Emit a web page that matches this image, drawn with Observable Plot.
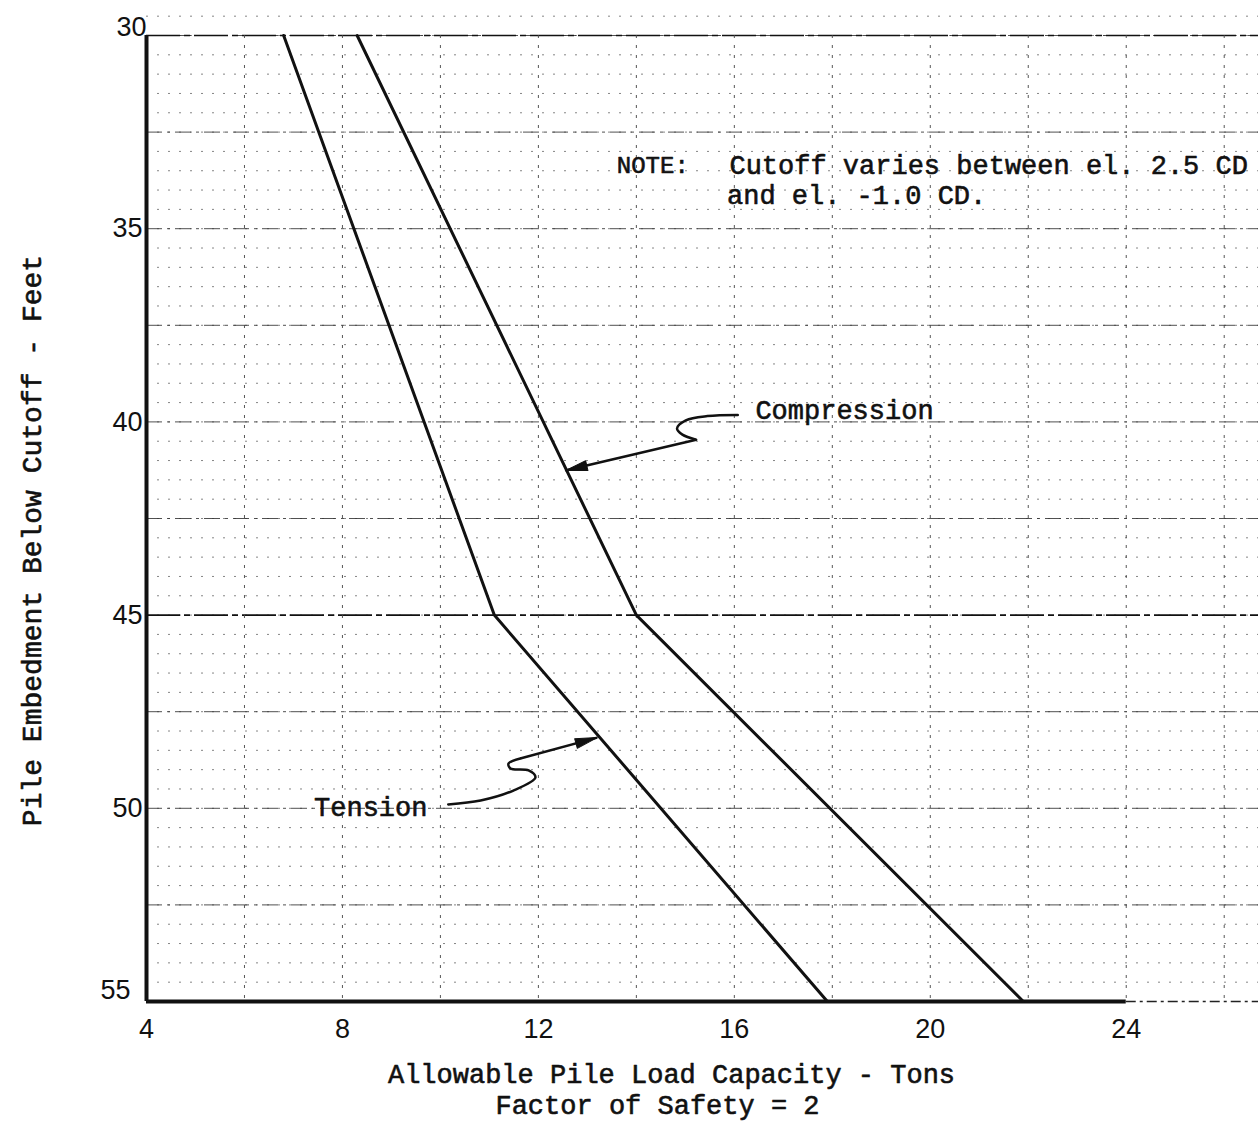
<!DOCTYPE html>
<html>
<head>
<meta charset="utf-8">
<script src="https://cdn.jsdelivr.net/npm/d3@7"></script>
<script src="https://cdn.jsdelivr.net/npm/@observablehq/plot@0.6"></script>
<style>
  html, body { margin: 0; padding: 0; background: #fff; }
  #chart { width: 1258px; height: 1129px; }
</style>
</head>
<body>
<div id="chart"></div>
<script>
// ---- values ----
const depth = [30, 45, 55];                 // Pile embedment below cutoff (ft)
const tension = [6.8, 11.1, 17.9];          // Allowable load, tension (tons)
const compression = [8.3, 14.0, 21.9];      // Allowable load, compression (tons)

const xTicks = [4, 8, 12, 16, 20, 24];
const yTicksMid = [35, 40, 45, 50];
const yTickTop = [30];
const yTickBottom = [55];

// graph-paper grid
const gridMinorY = d3.range(29.5, 55, 0.5);
const gridMidY = [30, 32.5, 35, 37.5, 40, 42.5, 47.5, 50, 52.5];
const gridMajorY = [30, 45];
const gridX = d3.range(6, 27, 2);

// annotation leaders (data units)
const compLeader = [
  {x: 16.07, y: 39.82}, {x: 15.45, y: 39.85}, {x: 15.01, y: 39.96},
  {x: 14.83, y: 40.17}, {x: 14.94, y: 40.33}, {x: 15.22, y: 40.46}
];
const compTip = {x1: 15.22, y1: 40.46, x2: 12.55, y2: 41.26};
const tensLeader = [
  {x: 10.16, y: 49.90}, {x: 10.82, y: 49.80}, {x: 11.49, y: 49.54},
  {x: 11.94, y: 49.20}, {x: 11.80, y: 49.02}, {x: 11.43, y: 48.97},
  {x: 11.39, y: 48.84}, {x: 11.63, y: 48.71}
];
const tensTip = {x1: 11.63, y1: 48.71, x2: 13.2, y2: 48.17};

const rows = [
  ...depth.map((d, i) => ({load: tension[i], depth: d, series: "Tension"})),
  ...depth.map((d, i) => ({load: compression[i], depth: d, series: "Compression"}))
];

const mono = "'Liberation Mono', 'DejaVu Sans Mono', monospace";
const sans = "'Liberation Sans', Arial, sans-serif";
const ink = "#111";
const heavy = {stroke: ink, strokeWidth: 0.6};

const headShape = {
  draw(context, l) {
    context.moveTo(0, -l);
    context.lineTo(-5, -l + 22);
    context.lineTo(5, -l + 22);
    context.closePath();
  }
};

const plot = Plot.plot({
  width: 1258,
  height: 1129,
  marginLeft: 146,
  marginRight: 0,
  marginTop: 35,
  marginBottom: 128,
  x: {domain: [4, 26.7], label: null},
  y: {domain: [30, 55], reverse: true, label: null},
  style: {background: "#fff", color: ink},
  marks: [
    // graph paper
    Plot.ruleY(gridMinorY, {stroke: "#666", strokeWidth: 1, strokeDasharray: "2,9", strokeOpacity: 0.8}),
    Plot.ruleY(gridMidY, {stroke: "#333", strokeWidth: 1, strokeDasharray: "16,5,3,5", strokeOpacity: 0.85}),
    Plot.ruleY(gridMajorY, {stroke: "#111", strokeWidth: 1.6, strokeDasharray: "34,4,6,4"}),
    Plot.ruleX(gridX, {stroke: "#444", strokeWidth: 1, strokeDasharray: "3,7", strokeOpacity: 0.9}),

    // axes frame
    Plot.ruleX([4], {y1: 30, y2: 55, stroke: ink, strokeWidth: 4}),
    Plot.ruleY([55], {x1: 4, x2: 24, stroke: ink, strokeWidth: 4}),
    Plot.ruleY([55], {x1: 24, x2: 26.7, stroke: "#222", strokeWidth: 1.5, strokeDasharray: "10,4,3,4"}),

    // tick labels
    Plot.axisX({ticks: xTicks, tickSize: 0, tickPadding: 17, fontSize: 27, fontFamily: sans, label: null, fill: ink}),
    Plot.axisY({ticks: yTicksMid, tickSize: 0, tickPadding: 4, fontSize: 27, fontFamily: sans, label: null, fill: ink}),
    Plot.axisY({ticks: yTickTop, tickSize: 0, tickPadding: 0, dy: -8, fontSize: 27, fontFamily: sans, label: null, fill: ink}),
    Plot.axisY({ticks: yTickBottom, tickSize: 0, tickPadding: 16, dy: -11, fontSize: 27, fontFamily: sans, label: null, fill: ink}),

    // data lines
    Plot.line(rows, {x: "load", y: "depth", z: "series", stroke: ink, strokeWidth: 3}),

    // leaders
    Plot.line(compLeader, {x: "x", y: "y", curve: "catmull-rom", stroke: ink, strokeWidth: 2.5}),
    Plot.link([compTip], {x1: "x1", y1: "y1", x2: "x2", y2: "y2", stroke: ink, strokeWidth: 2.5}),
    Plot.vector([compTip], {x: "x2", y: "y2", length: 22, rotate: 256.9, anchor: "end", shape: headShape, fill: ink, stroke: ink, strokeWidth: 1}),
    Plot.line(tensLeader, {x: "x", y: "y", curve: "catmull-rom", stroke: ink, strokeWidth: 2.5}),
    Plot.link([tensTip], {x1: "x1", y1: "y1", x2: "x2", y2: "y2", stroke: ink, strokeWidth: 2.5}),
    Plot.vector([tensTip], {x: "x2", y: "y2", length: 22, rotate: 74.4, anchor: "end", shape: headShape, fill: ink, stroke: ink, strokeWidth: 1}),

    // annotations
    Plot.text(["NOTE:"], {x: 13.6, y: 33.35, text: d => d, textAnchor: "start", fontFamily: mono, fontSize: 24, fill: ink, ...heavy}),
    Plot.text(["Cutoff varies between el. 2.5 CD"], {x: 15.9, y: 33.35, text: d => d, textAnchor: "start", fontFamily: mono, fontSize: 27, fill: ink, ...heavy}),
    Plot.text(["and el. -1.0 CD."], {x: 15.85, y: 34.15, text: d => d, textAnchor: "start", fontFamily: mono, fontSize: 27, fill: ink, ...heavy}),
    Plot.text(["Compression"], {x: 16.43, y: 39.7, text: d => d, textAnchor: "start", fontFamily: mono, fontSize: 27, fill: ink, ...heavy}),
    Plot.text(["Tension"], {x: 7.42, y: 49.98, text: d => d, textAnchor: "start", fontFamily: mono, fontSize: 27, fill: ink, ...heavy}),

    // axis titles
    Plot.text(["Allowable Pile Load Capacity - Tons"], {frameAnchor: "bottom", dx: -31, dy: 81, text: d => d, textAnchor: "middle", fontFamily: mono, fontSize: 27, fill: ink, ...heavy}),
    Plot.text(["Factor of Safety = 2"], {frameAnchor: "bottom", dx: -45, dy: 112, text: d => d, textAnchor: "middle", fontFamily: mono, fontSize: 27, fill: ink, ...heavy}),
    Plot.text(["Pile Embedment Below Cutoff - Feet"], {frameAnchor: "left", dx: -114, dy: 22, rotate: -90, text: d => d, textAnchor: "middle", fontFamily: mono, fontSize: 28, fill: ink, ...heavy})
  ]
});

document.getElementById("chart").appendChild(plot);
</script>
</body>
</html>
